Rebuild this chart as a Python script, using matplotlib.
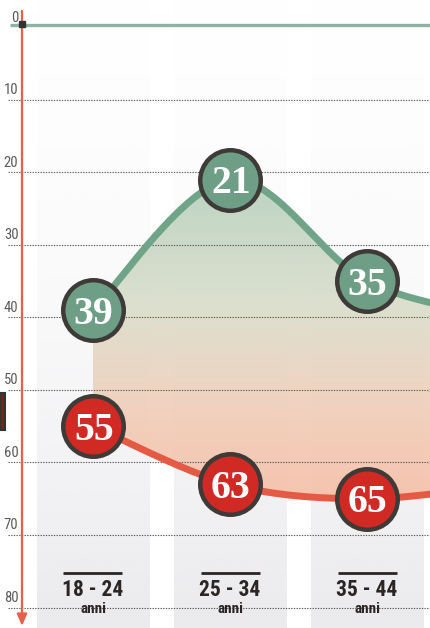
import numpy as np
import matplotlib
matplotlib.use("Agg")
import matplotlib.pyplot as plt
from matplotlib import font_manager as fm
from matplotlib.colors import LinearSegmentedColormap
from matplotlib.patches import Rectangle

# ---------------- data ----------------
categories = ['18 - 24', '25 - 34', '35 - 44', '45 - 54']
sub_label = 'anni'
green_values = [39, 21, 35, 40]
red_values = [55, 63, 65, 63]
y_ticks = [0, 10, 20, 30, 40, 50, 60, 70, 80]

# ---------------- layout helpers (pixel geometry) ----------------
W, H = 430, 628
X0, DX = 93.0, 137.0      # pixel x of first category, spacing
Y0, DY = 27.5, 7.25       # pixel y of value 0, pixels per unit

def px2x(px):
    return (px - X0) / DX

def px2v(py):
    return (py - Y0) / DY

names = {f.name for f in fm.fontManager.ttflist}
narrow = None
for cand in ['Liberation Sans Narrow', 'Roboto Condensed', 'DejaVu Sans Condensed']:
    if cand in names:
        narrow = cand
        break
if narrow is None:
    narrow = 'Roboto' if 'Roboto' in names else 'DejaVu Sans'
if narrow in ('Liberation Sans Narrow', 'Roboto Condensed', 'DejaVu Sans Condensed'):
    cat_size, anni_size, tick_size = 15.5, 11, 10.5
elif narrow == 'Roboto':
    cat_size, anni_size, tick_size = 13, 9.5, 9
else:
    cat_size, anni_size, tick_size = 11, 8.5, 8
serif = 'Liberation Serif' if 'Liberation Serif' in names else 'DejaVu Serif'

fig = plt.figure(figsize=(W / 100, H / 100), dpi=100)
ax = fig.add_axes([0, 0, 1, 1])
xmin, xmax = px2x(0), px2x(W)
ax.set_xlim(xmin, xmax)
ax.set_ylim(px2v(H), px2v(0))
ax.axis('off')

x = np.arange(len(categories))

# ---------------- column backgrounds ----------------
half = 0.412
ncol = 200
tt = np.linspace(0, 1, ncol)
alpha = 0.03 + 0.97 * tt ** 1.8
col_img = np.zeros((ncol, 1, 4))
col_img[:, 0, 0] = 235 / 255
col_img[:, 0, 1] = 235 / 255
col_img[:, 0, 2] = 238 / 255
col_img[:, 0, 3] = alpha
for xi in x:
    ax.imshow(col_img, extent=(xi - half, xi + half, px2v(H), px2v(0)),
              origin='upper', aspect='auto', zorder=0, interpolation='bilinear')

# ---------------- smooth curves (Catmull-Rom) ----------------
def catmull(xs, ys, n=80):
    xs = list(xs); ys = list(ys)
    px = [xs[0]] + xs + [xs[-1]]
    py = [ys[0]] + ys + [ys[-1]]
    outx, outy = [], []
    for i in range(1, len(px) - 2):
        t = np.linspace(0, 1, n)
        for arr, out in ((px, outx), (py, outy)):
            p0, p1, p2, p3 = arr[i - 1], arr[i], arr[i + 1], arr[i + 2]
            val = 0.5 * (2 * p1 + (-p0 + p2) * t
                         + (2 * p0 - 5 * p1 + 4 * p2 - p3) * t ** 2
                         + (-p0 + 3 * p1 - 3 * p2 + p3) * t ** 3)
            out.extend(val if i == 1 else val[1:])
    return np.array(outx), np.array(outy)

gx, gy = catmull(x, green_values)
rx, ry = catmull(x, red_values)

# ---------------- gradient fill between curves ----------------
poly = ax.fill_between(gx, gy, ry, facecolor='none', edgecolor='none')
cmap = LinearSegmentedColormap.from_list('gr', [
    (0.00, (180 / 255, 208 / 255, 188 / 255)),
    (0.40, (218 / 255, 222 / 255, 204 / 255)),
    (0.65, (238 / 255, 210 / 255, 190 / 255)),
    (1.00, (248 / 255, 190 / 255, 166 / 255)),
])
grad = np.linspace(0, 1, 256).reshape(-1, 1)
im = ax.imshow(grad, cmap=cmap, extent=(0, x[-1], 67, 19), origin='upper',
               aspect='auto', zorder=2, alpha=0.93, interpolation='bilinear')
im.set_clip_path(poly.get_paths()[0], transform=ax.transData)

# ---------------- gridlines & ticks ----------------
for v in y_ticks[1:]:
    ax.plot([px2x(8), px2x(W)], [v, v], color='#5a5a5a', lw=0.8,
            ls=(0, (1.2, 1.2)), zorder=3)
for v in y_ticks:
    ax.text(px2x(18.5), v - 0.4, str(v), ha='right', va='bottom',
            fontsize=tick_size, color='#5a5a5a', family=[narrow, 'DejaVu Sans'], zorder=6)

# green zero line
ax.plot([px2x(10), px2x(W)], [-0.4, -0.4], color='#8cb4a0', lw=2.4,
        solid_capstyle='butt', zorder=3)

# red axis with arrow
ax.annotate('', xy=(px2x(22), px2v(626)), xytext=(px2x(22), px2v(11)),
            arrowprops=dict(arrowstyle='-|>,head_length=0.7,head_width=0.3',
                            color='#e8604c', lw=1.6, shrinkA=0, shrinkB=0),
            zorder=7)
ax.add_patch(Rectangle((px2x(19), px2v(21.5)), 6 / DX, 6 / DY,
                       color='#333333', zorder=8))

# ---------------- curves and circles ----------------
ax.plot(gx, gy, color='#70a489', lw=5, solid_capstyle='round', zorder=4)
ax.plot(rx, ry, color='#e45a44', lw=5, solid_capstyle='round', zorder=4)

ax.scatter(x, green_values, s=1900, color='#6e9f86', edgecolor='#3d3a37',
           linewidth=3.2, zorder=5)
ax.scatter(x, red_values, s=1900, color='#d12a24', edgecolor='#3d3a37',
           linewidth=3.2, zorder=5)

for xi, gv, rv in zip(x, green_values, red_values):
    for v in (gv, rv):
        ax.annotate(str(v), (xi, v), xytext=(0.5, -9.6), textcoords='offset points',
                    ha='center', va='baseline', color='white', fontsize=28.5,
                    fontweight='bold', family=[serif, 'DejaVu Serif'], zorder=6)

# ---------------- category labels (only those inside the visible range) ----------------
for xi, lab in zip(x, categories):
    if xi + 0.3 > xmax:
        continue
    ax.plot([xi - 29.5 / DX, xi + 29.5 / DX], [px2v(573), px2v(573)],
            color='#2b2623', lw=2, solid_capstyle='butt', zorder=6)
    ax.text(xi, px2v(590), lab, ha='center', va='center', fontsize=cat_size,
            fontweight='bold', color='#2b2623', family=[narrow, 'DejaVu Sans'], zorder=6)
    ax.text(xi, px2v(609), sub_label, ha='center', va='center', fontsize=anni_size,
            fontweight='bold', color='#2b2623', family=[narrow, 'DejaVu Sans'], zorder=6)

# cropped legend fragment at left edge
fig.add_artist(Rectangle((0, 1 - 430 / H), 5 / W, 37 / H, transform=fig.transFigure,
                         facecolor='#7a1f1c', edgecolor='#333333', lw=1.5))

fig.savefig('out.png', dpi=100)
